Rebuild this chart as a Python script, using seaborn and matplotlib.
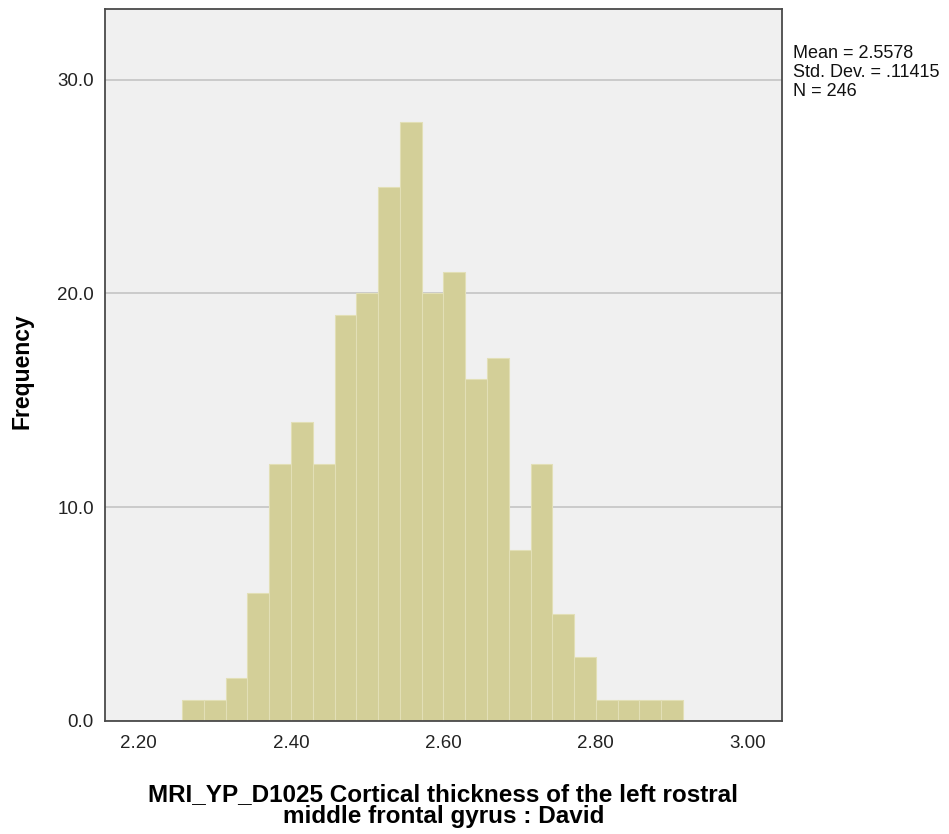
import numpy as np
import pandas as pd
import matplotlib
matplotlib.use("Agg")
import matplotlib.pyplot as plt
import seaborn as sns

# bin layout
bin_start = 2.257
bin_width = 0.02859
counts = [1, 1, 2, 6, 12, 14, 12, 19, 20, 25, 28, 20, 21, 16, 17, 8, 12, 5, 3, 1, 1, 1, 1]
x_ticks = [2.20, 2.40, 2.60, 2.80, 3.00]
y_ticks = [0, 10, 20, 30]
stats_lines = ["Mean = 2.5578", "Std. Dev. = .11415", "N = 246"]

edges = bin_start + bin_width * np.arange(len(counts) + 1)
df = pd.DataFrame({"x": (edges[:-1] + edges[1:]) / 2, "n": counts})

sns.set_theme(style="white")
plt.rcParams["font.family"] = ["Liberation Sans", "DejaVu Sans"]

fig = plt.figure(figsize=(9.49, 8.34), dpi=100)
ax = fig.add_axes([0.1106, 0.1355, 0.713, 0.8535])
ax.set_facecolor("#F0F0F0")

sns.histplot(data=df, x="x", weights="n", binwidth=bin_width,
             binrange=(edges[0], edges[-1]), ax=ax,
             color="#D3CF98", edgecolor="#E2DFB6", linewidth=0.8, alpha=1)

ax.set_xlim(2.1557, 3.044)
ax.set_ylim(0, 33.3)
ax.set_xticks(x_ticks)
ax.set_xticklabels([f"{t:.2f}" for t in x_ticks], fontsize=13.5, color="#222222")
ax.set_yticks(y_ticks)
ax.set_yticklabels([f"{t:.1f}" for t in y_ticks], fontsize=13.5, color="#222222")
ax.tick_params(axis="x", length=0, pad=10)
ax.tick_params(axis="y", length=0, pad=8)
ax.yaxis.grid(True, color="#C4C4C4", linewidth=1.2)
ax.set_axisbelow(True)
for s in ax.spines.values():
    s.set_color("#4A4A4A")
    s.set_linewidth(1.3)

ax.set_ylabel("Frequency", fontsize=16.5, fontweight="bold", color="black")
ax.yaxis.set_label_coords(-0.105, 0.492)
ax.set_xlabel("MRI_YP_D1025 Cortical thickness of the left rostral\nmiddle frontal gyrus : David",
              fontsize=17.5, fontweight="bold", linespacing=0.93, color="black")
ax.xaxis.set_label_coords(0.5, -0.087)

fig.text(0.8356, 1 - 45.5 / 834, "\n".join(stats_lines), fontsize=13, va="top", ha="left",
         linespacing=1.12, color="#111111")

fig.savefig("out.png", dpi=100)
